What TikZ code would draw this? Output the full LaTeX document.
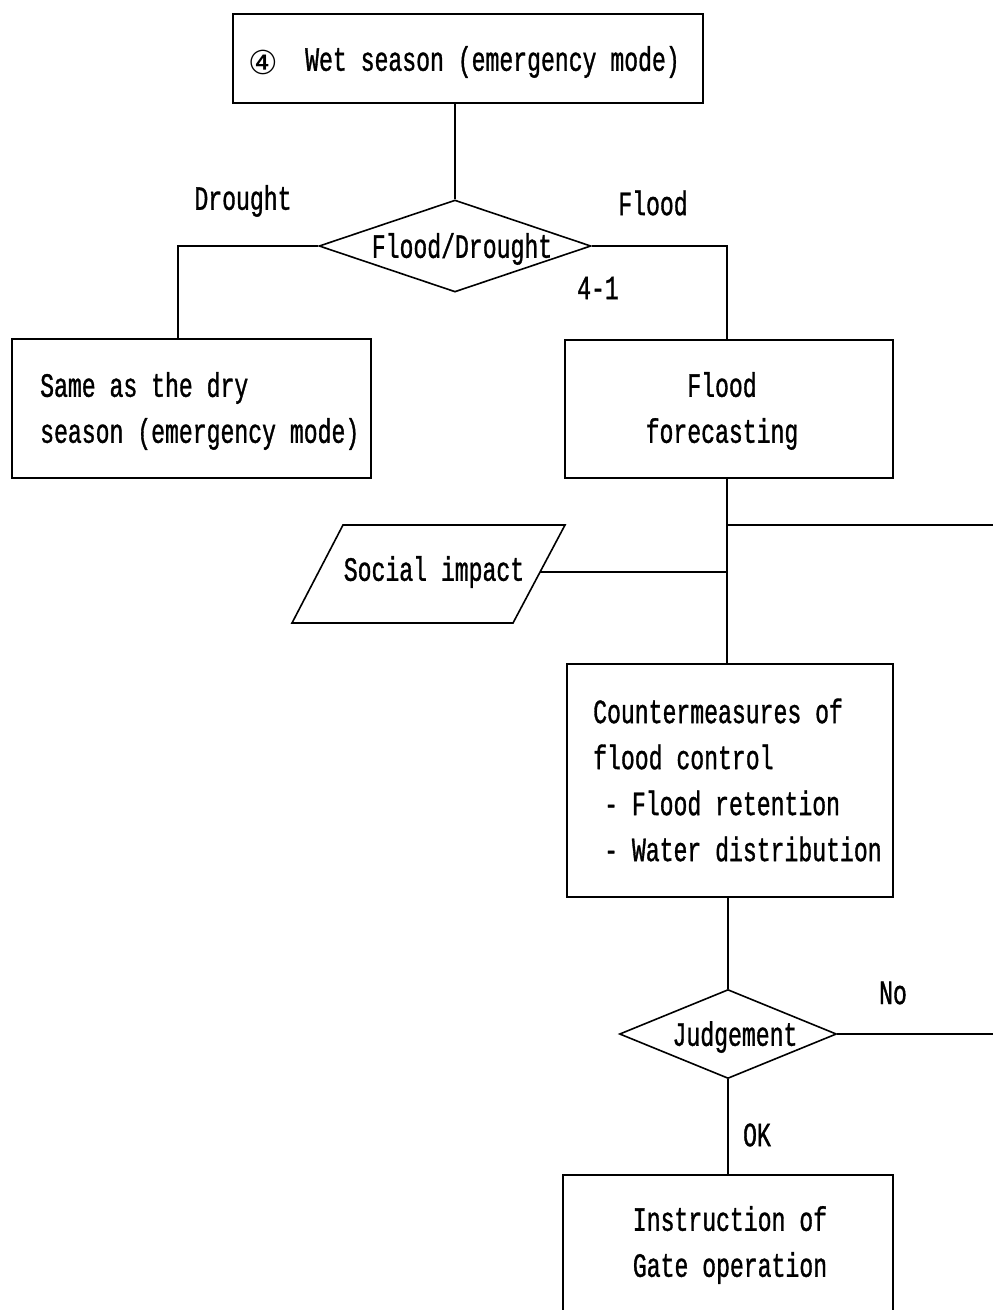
\documentclass[tikz,border=0pt]{standalone}
\usepackage{fontspec}
\setmonofont[FakeStretch=0.68,FakeBold=1]{Liberation Mono}
\newfontfamily\circfont{DejaVu Sans}
\usetikzlibrary{shapes.geometric}

\tikzset{
  txt/.style={font=\ttfamily\fontsize{34}{46}\selectfont, inner sep=0pt},
  box/.style={draw, line width=1.6pt, inner sep=0pt},
  decision/.style={draw, diamond, inner sep=0pt, line width=1.6pt},
  wire/.style={line width=1.6pt},
}

\begin{document}
\begin{tikzpicture}[x=1pt, y=-1pt]
\useasboundingbox (0,0) rectangle (993,1310);
\clip (0,0) rectangle (993,1310);
\fill[white] (0,0) rectangle (993,1310);

% boxes
\node[box, minimum width=470, minimum height=89] (wet) at (468,58.5) {};
\node[inner sep=0pt, font=\circfont\fontsize{33}{36}\selectfont] (wetnum) at (263,62) {④};
\node[txt, anchor=west] (wettxt) at (305,62) {Wet season (emergency mode)};

\node[decision, minimum width=272, minimum height=92] (fd) at (455,246) {};
\node[txt] (fdtxt) at (462,249) {Flood/Drought};

\node[box, minimum width=359, minimum height=139] (dry) at (191.5,408.5) {};
\node[txt, anchor=west, align=left] (drytxt) at (40,411)
  {Same as the dry\\season (emergency mode)};

\node[box, minimum width=328, minimum height=138] (fc) at (729,409) {};
\node[txt, align=center] (fctxt) at (722,411) {Flood\\forecasting};

% social impact (parallelogram)
\coordinate (sTL) at (343,525);
\coordinate (sTR) at (565,525);
\coordinate (sBR) at (513,623);
\coordinate (sBL) at (292,623);
\draw[wire] (sTL) -- (sTR) -- (sBR) -- (sBL) -- cycle;
\node[txt] (social) at (434,572) {Social impact};
\coordinate (socialR) at (540,572);

\node[box, minimum width=326, minimum height=233] (cm) at (730,780.5) {};
\node[txt, anchor=west, align=left] (cmtxt) at (593,780)
  {Countermeasures of\\flood control\\\hspace*{11pt}- Flood retention\\\hspace*{11pt}- Water distribution};

\node[decision, minimum width=217, minimum height=89] (jd) at (728,1034) {};
\node[txt] (jdtxt) at (735,1037) {Judgement};

\node[box, minimum width=330, minimum height=220] (gate) at (728,1285) {};
\node[txt, align=center] (gatetxt) at (730,1245) {Instruction of\\Gate operation};

% labels
\node[txt] (ldrought) at (243,201) {Drought};
\node[txt] (lflood) at (653,203) {Flood};
\node[txt] (l41) at (598,288) {4-1};
\node[txt] (lno) at (893,993) {No};
\node[txt] (lok) at (757,1135) {OK};

% right-edge ends
\coordinate (edgeTop) at (993,525);
\coordinate (edgeNo) at (993,1034);

% connectors
\draw[wire] (fd.north) -- (fd.north |- wet.south);
\draw[wire] (fd.west) -| ([xshift=-13.5pt]dry.north);
\draw[wire] (fd.east) -| ([xshift=-2pt]fc.north);
\draw[wire] ([xshift=-2pt]fc.south) -- ([xshift=-2pt]fc.south |- cm.north);
\draw[wire] ([xshift=-2pt]fc.south |- edgeTop) -- (edgeTop);
\draw[wire] (socialR) -- ([xshift=-2pt]fc.south |- socialR);
\draw[wire] (jd.north |- cm.south) -- (jd.north);
\draw[wire] (jd.east) -- (edgeNo);
\draw[wire] (jd.south) -- (jd.south |- gate.north);
\end{tikzpicture}
\end{document}
